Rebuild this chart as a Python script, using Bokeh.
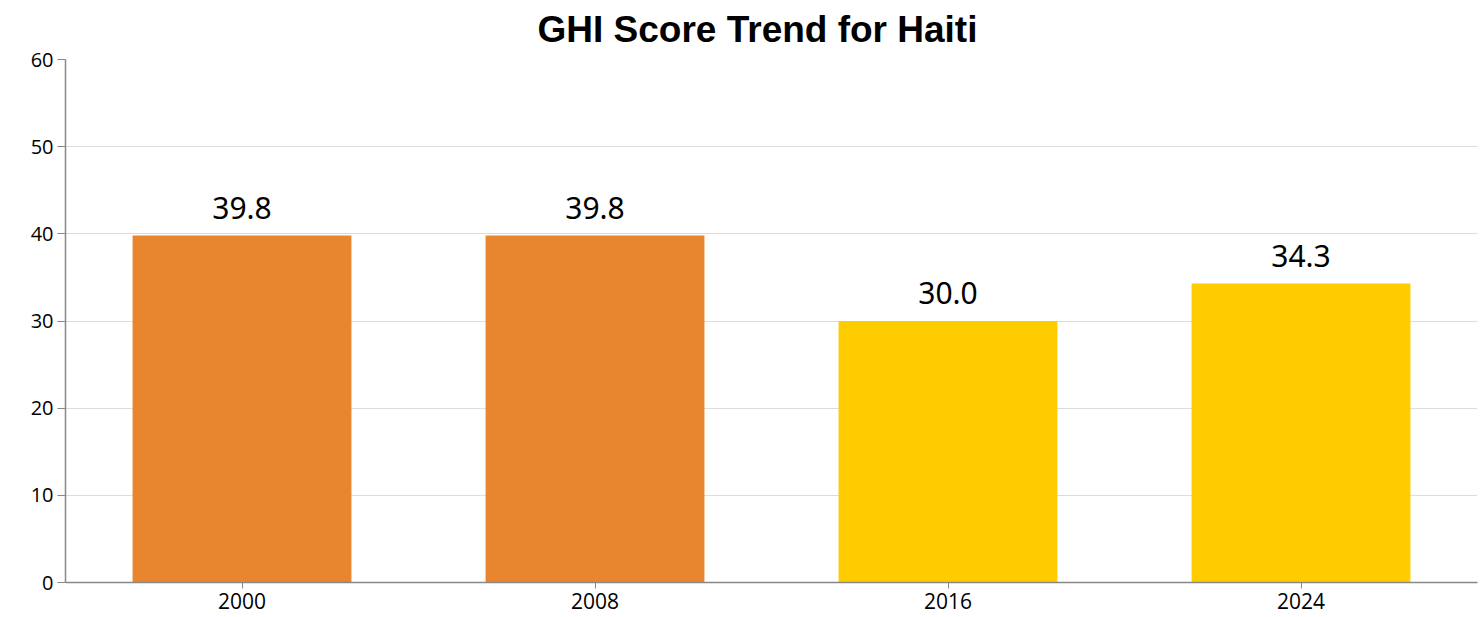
from bokeh.plotting import figure
from bokeh.models import ColumnDataSource, FactorRange, Range1d, Title
from bokeh.embed import file_html
from bokeh.resources import INLINE
from bokeh.core.properties import value
from bokeh.transform import dodge

title_text = "GHI Score Trend for Haiti"
years = ["2000", "2008", "2016", "2024"]
scores = [39.8, 39.8, 30.0, 34.3]
colors = ["#E8852F", "#E8852F", "#FFCC00", "#FFCC00"]
labels = ["39.8", "39.8", "30.0", "34.3"]
y_ticks = [0, 10, 20, 30, 40, 50, 60]

src = ColumnDataSource(dict(x=years, y=scores, c=colors, t=labels))

p = figure(width=1479, height=617, x_range=FactorRange(*years, range_padding=0),
           y_range=Range1d(0, 60), output_backend="svg", toolbar_location=None,
           min_border_left=65, min_border_right=2, min_border_top=59, min_border_bottom=35)
p.title = Title(text=title_text, align="left", offset=472, vertical_align="top",
                text_font="Liberation Sans", text_font_size="37px", text_font_style="bold",
                text_color="#000000", standoff=15, text_line_height=0.6)
p.outline_line_color = None
p.vbar(x="x", top="y", width=0.62, fill_color="c", line_color=None, source=src)
p.text(x="x", y=dodge("y", 3.2), text="t", source=src, text_align="center",
       text_baseline="alphabetic", text_font=value("Noto Sans"), text_font_size="30px",
       text_color="#000000")

p.xgrid.grid_line_color = None
p.ygrid.grid_line_color = "#dddddd"
p.ygrid.grid_line_width = 1
p.yaxis.ticker = y_ticks
for ax in (p.xaxis[0], p.yaxis[0]):
    ax.axis_line_color = "#888888"
    ax.axis_line_width = 1.5
    ax.major_tick_line_color = "#888888"
    ax.minor_tick_line_color = None
    ax.major_label_text_font = "Open Sans"
    ax.major_label_text_color = "#000000"
p.yaxis.major_label_text_font_size = "20px"
p.xaxis.major_label_text_font_size = "21px"
p.yaxis.major_tick_in = 0
p.yaxis.major_tick_out = 8
p.xaxis.major_tick_in = 0
p.xaxis.major_tick_out = 6
p.yaxis.major_label_standoff = 4
p.xaxis.major_label_standoff = 4

open("out.html", "w").write(file_html(p, INLINE))
